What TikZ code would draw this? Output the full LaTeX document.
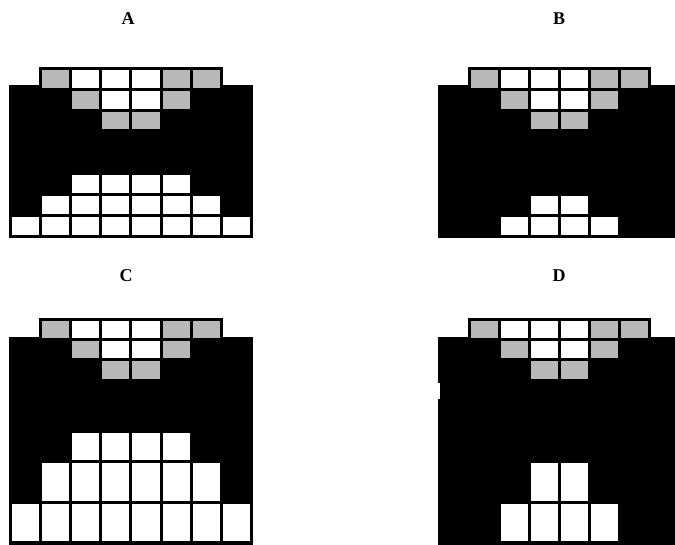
\documentclass[tikz,border=0pt]{standalone}
\usepackage{fontspec}
\setmainfont{Liberation Serif}
\definecolor{cellgrey}{gray}{0.72}
\tikzset{lbl/.style={font=\fontsize{18}{20}\selectfont\bfseries, inner sep=0pt}}
% #1 x0, #2 pitch, #3 ytop, #4 ybot, #5 colour, #6 column list
\newcommand\mkcells[6]{%
  \foreach \c in {#6} {\fill[#5] ({#1+\c*#2+1.5},{#3+1.5}) rectangle ({#1+(\c+1)*#2-1.5},{#4-1.5});}}
% top part (rows 0-2), #1 x0, #2 pitch, #3..#6 row boundaries
\newcommand\mktop[6]{%
  \mkcells{#1}{#2}{#3}{#4}{cellgrey}{1,5,6}
  \mkcells{#1}{#2}{#3}{#4}{white}{2,3,4}
  \mkcells{#1}{#2}{#4}{#5}{cellgrey}{2,5}
  \mkcells{#1}{#2}{#4}{#5}{white}{3,4}
  \mkcells{#1}{#2}{#5}{#6}{cellgrey}{3,4}}
\begin{document}
\begin{tikzpicture}[x=1pt,y=-1pt]
\useasboundingbox (0,0) rectangle (675,544);
\clip (0,0) rectangle (675,544);
% labels
\node[lbl] (labA) at (128,19) {A};
\node[lbl] (labB) at (559,19) {B};
\node[lbl] (labC) at (126,276) {C};
\node[lbl] (labD) at (559,276) {D};
% ---------- panel A ----------
\def\xa{10.5}\def\p{30.1}
\fill[black] (\xa-1.5,85) rectangle ({\xa+8*\p+1.5},238);
\fill[black] ({\xa+\p-1.5},67) rectangle ({\xa+7*\p+1.5},91);
\mktop{\xa}{\p}{68.5}{89.3}{110}{130.8}
\mkcells{\xa}{\p}{173.5}{194.5}{white}{2,3,4,5}
\mkcells{\xa}{\p}{194.5}{215.5}{white}{1,2,3,4,5,6}
\mkcells{\xa}{\p}{215.5}{236.5}{white}{0,1,2,3,4,5,6,7}
% ---------- panel B ----------
\def\xb{439}
\fill[black] (\xb-1.5,85) rectangle (690,238);
\fill[black] ({\xb+\p-1.5},67) rectangle ({\xb+7*\p+1.5},91);
\mktop{\xb}{\p}{68.5}{89.3}{110}{130.8}
\mkcells{\xb}{\p}{194.5}{215.5}{white}{3,4}
\mkcells{\xb}{\p}{215.5}{236.5}{white}{2,3,4,5}
% ---------- panel C ----------
\fill[black] (\xa-1.5,336.7) rectangle ({\xa+8*\p+1.5},550);
\fill[black] ({\xa+\p-1.5},318.3) rectangle ({\xa+7*\p+1.5},341);
\mktop{\xa}{\p}{319.8}{339.5}{359.5}{380}
\mkcells{\xa}{\p}{431.8}{461.3}{white}{2,3,4,5}
\mkcells{\xa}{\p}{461.3}{502}{white}{1,2,3,4,5,6}
\mkcells{\xa}{\p}{502}{542.3}{white}{0,1,2,3,4,5,6,7}
% ---------- panel D ----------
\fill[black] (\xb-1.5,337.3) rectangle (690,550);
\fill[black] ({\xb+\p-1.5},318.3) rectangle ({\xb+7*\p+1.5},341);
\mktop{\xb}{\p}{319.8}{339.5}{359.5}{380}
\mkcells{\xb}{\p}{461.3}{502}{white}{3,4}
\mkcells{\xb}{\p}{502}{542.3}{white}{2,3,4,5}
\fill[white] (436,383) rectangle (440.3,399);
\end{tikzpicture}
\end{document}
